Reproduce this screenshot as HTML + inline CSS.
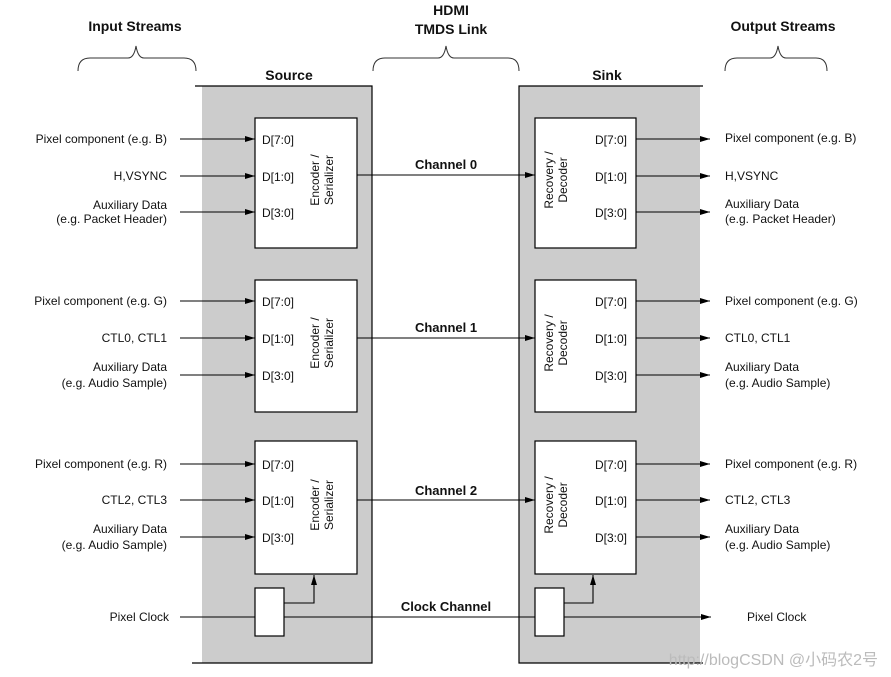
<!DOCTYPE html>
<html><head><meta charset="utf-8"><style>
html,body{margin:0;padding:0;background:#fff;}
svg{display:block;}
text{font-family:"Liberation Sans",Arial,sans-serif;fill:#111;}
.s{font-size:12px;}
.b{font-size:14px;font-weight:bold;}
.c{font-size:13px;font-weight:bold;}
</style></head><body>
<svg width="891" height="677" viewBox="0 0 891 677" xmlns="http://www.w3.org/2000/svg">
<defs>
<marker id="a" markerWidth="10" markerHeight="8" refX="10" refY="4" orient="auto" markerUnits="userSpaceOnUse">
<path d="M0,1 L10,4 L0,7 z" fill="#000"/></marker>
</defs>
<!-- gray blocks -->
<rect x="202" y="86" width="170" height="577" fill="#cccccc"/>
<rect x="519" y="86" width="181" height="577" fill="#cccccc"/>
<g stroke="#000" stroke-width="1.2" fill="none">
<path d="M195 86 H372 V663 H192"/>
<path d="M703 86 H519 V663 H703"/>
</g>
<!-- headers -->
<text class="b" x="135" y="31" text-anchor="middle">Input Streams</text>
<text class="b" x="451" y="15" text-anchor="middle">HDMI</text>
<text class="b" x="451" y="34" text-anchor="middle">TMDS Link</text>
<text class="b" x="783" y="31" text-anchor="middle">Output Streams</text>
<text class="b" x="289" y="80" text-anchor="middle">Source</text>
<text class="b" x="607" y="80" text-anchor="middle">Sink</text>
<!-- braces -->
<g stroke="#333" stroke-width="1" fill="none">
<path d="M78 71 Q78 58 90 58 H128 Q134 58 136 46 Q138 58 144 58 H184 Q196 58 196 71"/>
<path d="M373 71 Q373 58 385 58 H438 Q444 58 446 46 Q448 58 454 58 H508 Q519 58 519 71"/>
<path d="M725 71 Q725 58 737 58 H770 Q776 58 778 46 Q780 58 786 58 H816 Q827 58 827 71"/>
</g>
<!-- boxes -->
<g stroke="#000" stroke-width="1.2" fill="#fff">
<rect x="255" y="118" width="102" height="130"/>
<rect x="255" y="280" width="102" height="132"/>
<rect x="255" y="441" width="102" height="133"/>
<rect x="535" y="118" width="101" height="130"/>
<rect x="535" y="280" width="101" height="132"/>
<rect x="535" y="441" width="101" height="133"/>
<rect x="255" y="588" width="29" height="48"/>
<rect x="535" y="588" width="29" height="48"/>
</g>
<g stroke="#000" stroke-width="1.1" fill="none">
<!-- inputs -->
<line x1="180" y1="139" x2="255" y2="139" marker-end="url(#a)"/>
<line x1="180" y1="176" x2="255" y2="176" marker-end="url(#a)"/>
<line x1="180" y1="212" x2="255" y2="212" marker-end="url(#a)"/>
<line x1="180" y1="301" x2="255" y2="301" marker-end="url(#a)"/>
<line x1="180" y1="338" x2="255" y2="338" marker-end="url(#a)"/>
<line x1="180" y1="375" x2="255" y2="375" marker-end="url(#a)"/>
<line x1="180" y1="464" x2="255" y2="464" marker-end="url(#a)"/>
<line x1="180" y1="500" x2="255" y2="500" marker-end="url(#a)"/>
<line x1="180" y1="537" x2="255" y2="537" marker-end="url(#a)"/>
<!-- channels -->
<line x1="357" y1="175" x2="535" y2="175" marker-end="url(#a)"/>
<line x1="357" y1="338" x2="535" y2="338" marker-end="url(#a)"/>
<line x1="357" y1="500" x2="535" y2="500" marker-end="url(#a)"/>
<!-- outputs -->
<line x1="636" y1="139" x2="710" y2="139" marker-end="url(#a)"/>
<line x1="636" y1="176" x2="710" y2="176" marker-end="url(#a)"/>
<line x1="636" y1="212" x2="710" y2="212" marker-end="url(#a)"/>
<line x1="636" y1="301" x2="710" y2="301" marker-end="url(#a)"/>
<line x1="636" y1="338" x2="710" y2="338" marker-end="url(#a)"/>
<line x1="636" y1="375" x2="710" y2="375" marker-end="url(#a)"/>
<line x1="636" y1="464" x2="710" y2="464" marker-end="url(#a)"/>
<line x1="636" y1="500" x2="710" y2="500" marker-end="url(#a)"/>
<line x1="636" y1="537" x2="710" y2="537" marker-end="url(#a)"/>
<!-- clock -->
<line x1="180" y1="617" x2="255" y2="617"/>
<line x1="284" y1="617" x2="535" y2="617"/>
<line x1="564" y1="617" x2="711" y2="617" marker-end="url(#a)"/>
<path d="M284 603 H314 V575" marker-end="url(#a)"/>
<path d="M564 603 H593 V575" marker-end="url(#a)"/>
</g>
<!-- input labels -->
<g class="s" text-anchor="end">
<text x="167" y="143">Pixel component (e.g. B)</text>
<text x="167" y="180">H,VSYNC</text>
<text x="167" y="209">Auxiliary Data</text>
<text x="167" y="223">(e.g. Packet Header)</text>
<text x="167" y="305">Pixel component (e.g. G)</text>
<text x="167" y="342">CTL0, CTL1</text>
<text x="167" y="371">Auxiliary Data</text>
<text x="167" y="387">(e.g. Audio Sample)</text>
<text x="167" y="468">Pixel component (e.g. R)</text>
<text x="167" y="504">CTL2, CTL3</text>
<text x="167" y="533">Auxiliary Data</text>
<text x="167" y="549">(e.g. Audio Sample)</text>
<text x="169" y="621">Pixel Clock</text>
</g>
<!-- output labels -->
<g class="s">
<text x="725" y="142">Pixel component (e.g. B)</text>
<text x="725" y="180">H,VSYNC</text>
<text x="725" y="208">Auxiliary Data</text>
<text x="725" y="223">(e.g. Packet Header)</text>
<text x="725" y="305">Pixel component (e.g. G)</text>
<text x="725" y="342">CTL0, CTL1</text>
<text x="725" y="371">Auxiliary Data</text>
<text x="725" y="387">(e.g. Audio Sample)</text>
<text x="725" y="468">Pixel component (e.g. R)</text>
<text x="725" y="504">CTL2, CTL3</text>
<text x="725" y="533">Auxiliary Data</text>
<text x="725" y="549">(e.g. Audio Sample)</text>
<text x="747" y="621">Pixel Clock</text>
</g>
<!-- pin labels -->
<g class="s">
<text x="262" y="144">D[7:0]</text><text x="262" y="181">D[1:0]</text><text x="262" y="217">D[3:0]</text>
<text x="262" y="306">D[7:0]</text><text x="262" y="343">D[1:0]</text><text x="262" y="380">D[3:0]</text>
<text x="262" y="469">D[7:0]</text><text x="262" y="505">D[1:0]</text><text x="262" y="542">D[3:0]</text>
<text x="595" y="144">D[7:0]</text><text x="595" y="181">D[1:0]</text><text x="595" y="217">D[3:0]</text>
<text x="595" y="306">D[7:0]</text><text x="595" y="343">D[1:0]</text><text x="595" y="380">D[3:0]</text>
<text x="595" y="469">D[7:0]</text><text x="595" y="505">D[1:0]</text><text x="595" y="542">D[3:0]</text>
</g>
<!-- rotated box labels -->
<g class="s" text-anchor="middle">
<text transform="translate(319,180) rotate(-90)">Encoder /</text>
<text transform="translate(333,180) rotate(-90)">Serializer</text>
<text transform="translate(319,343) rotate(-90)">Encoder /</text>
<text transform="translate(333,343) rotate(-90)">Serializer</text>
<text transform="translate(319,505) rotate(-90)">Encoder /</text>
<text transform="translate(333,505) rotate(-90)">Serializer</text>
<text transform="translate(553,180) rotate(-90)">Recovery /</text>
<text transform="translate(567,180) rotate(-90)">Decoder</text>
<text transform="translate(553,343) rotate(-90)">Recovery /</text>
<text transform="translate(567,343) rotate(-90)">Decoder</text>
<text transform="translate(553,505) rotate(-90)">Recovery /</text>
<text transform="translate(567,505) rotate(-90)">Decoder</text>
</g>
<!-- channel labels -->
<g class="c" text-anchor="middle">
<text x="446" y="169">Channel 0</text>
<text x="446" y="332">Channel 1</text>
<text x="446" y="495">Channel 2</text>
<text x="446" y="611">Clock Channel</text>
</g>
<text x="878" y="665" text-anchor="end" style="font-size:16px;fill:#bbb;font-family:'Liberation Sans','Noto Sans CJK SC',sans-serif">http://blogCSDN @小码农2号</text>
</svg>
</body></html>
